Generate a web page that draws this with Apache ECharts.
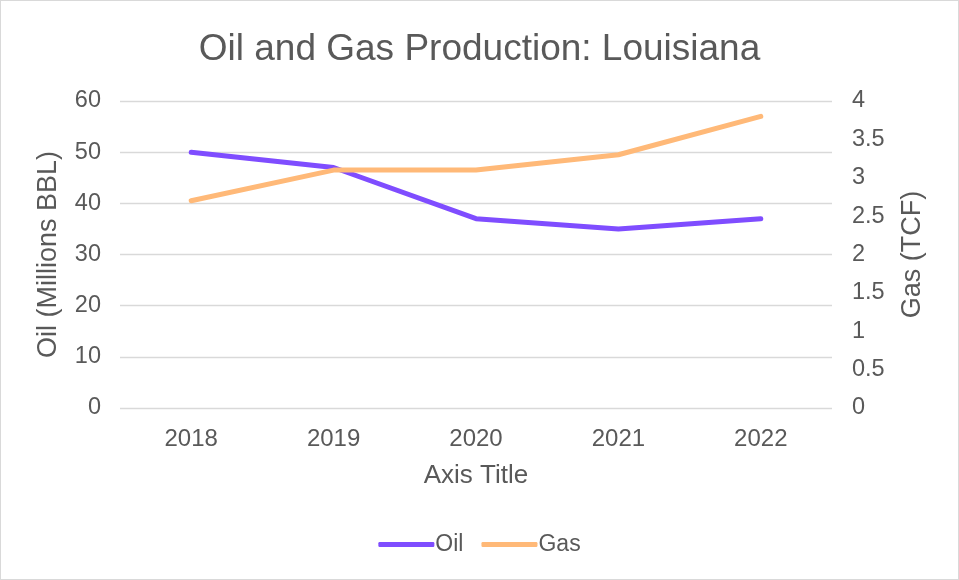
<!DOCTYPE html>
<html><head><meta charset="utf-8">
<script src="https://cdn.jsdelivr.net/npm/echarts@6/dist/echarts.min.js"></script>
<style>html,body{margin:0;padding:0;background:#fff}#c{width:959px;height:580px;box-sizing:border-box;border:1px solid #d9d9d9}</style>
</head><body><div id="c"></div>
<script>
const categories = ['2018','2019','2020','2021','2022'];
const oil = [50, 47, 37, 35, 37];
const gas = [2.7, 3.1, 3.1, 3.3, 3.8];
const leftTicks = [0, 60, 10];
const rightTicks = [0, 4, 0.5];
const txt = '#595959';
const font = 'Liberation Sans';
const chart = echarts.init(document.getElementById('c'));
chart.setOption({
  animation: false,
  textStyle: {fontFamily: font},
  title: {text: 'Oil and Gas Production: Louisiana', left: 'center', top: 25,
    textStyle: {fontFamily: font, fontSize: 37, fontWeight: 'normal', color: txt}},
  legend: {bottom: 18, left: 'center', itemWidth: 56, itemHeight: 5, itemGap: 18,
    icon: 'roundRect',
    textStyle: {fontFamily: font, fontSize: 23, color: txt, padding: [0,0,0,-4]},
    data: ['Oil', 'Gas']},
  grid: {left: 119, right: 126, top: 100, bottom: 171, containLabel: false},
  xAxis: {type: 'category', data: categories, boundaryGap: true,
    name: 'Axis Title', nameLocation: 'middle', nameGap: 55,
    nameTextStyle: {fontFamily: font, fontSize: 26, color: txt},
    axisLine: {show: false}, axisTick: {show: false},
    axisLabel: {fontFamily: font, fontSize: 24, color: txt, margin: 19}},
  yAxis: [
    {type: 'value', min: leftTicks[0], max: leftTicks[1], interval: leftTicks[2],
     name: 'Oil (Millions BBL)', nameLocation: 'middle', nameGap: 58, nameRotate: 90,
     nameTextStyle: {fontFamily: font, fontSize: 27, color: txt},
     axisLine: {show: false}, axisTick: {show: false},
     axisLabel: {fontFamily: font, fontSize: 23.5, color: txt, margin: 19},
     splitLine: {lineStyle: {color: '#d9d9d9', width: 1.3}}},
    {type: 'value', min: rightTicks[0], max: rightTicks[1], interval: rightTicks[2],
     name: 'Gas (TCF)', nameLocation: 'middle', nameGap: 67, nameRotate: 90,
     nameTextStyle: {fontFamily: font, fontSize: 27, color: txt},
     axisLine: {show: false}, axisTick: {show: false},
     axisLabel: {fontFamily: font, fontSize: 23.5, color: txt, margin: 20},
     splitLine: {show: false}}
  ],
  series: [
    {name: 'Oil', type: 'line', data: oil, yAxisIndex: 0, symbol: 'none',
     lineStyle: {width: 5, color: '#7F4DFF', cap: 'round', join: 'round'}, itemStyle: {color: '#7F4DFF'}},
    {name: 'Gas', type: 'line', data: gas, yAxisIndex: 1, symbol: 'none',
     lineStyle: {width: 5, color: '#FFB978', cap: 'round', join: 'round'}, itemStyle: {color: '#FFB978'}}
  ]
});
</script></body></html>
